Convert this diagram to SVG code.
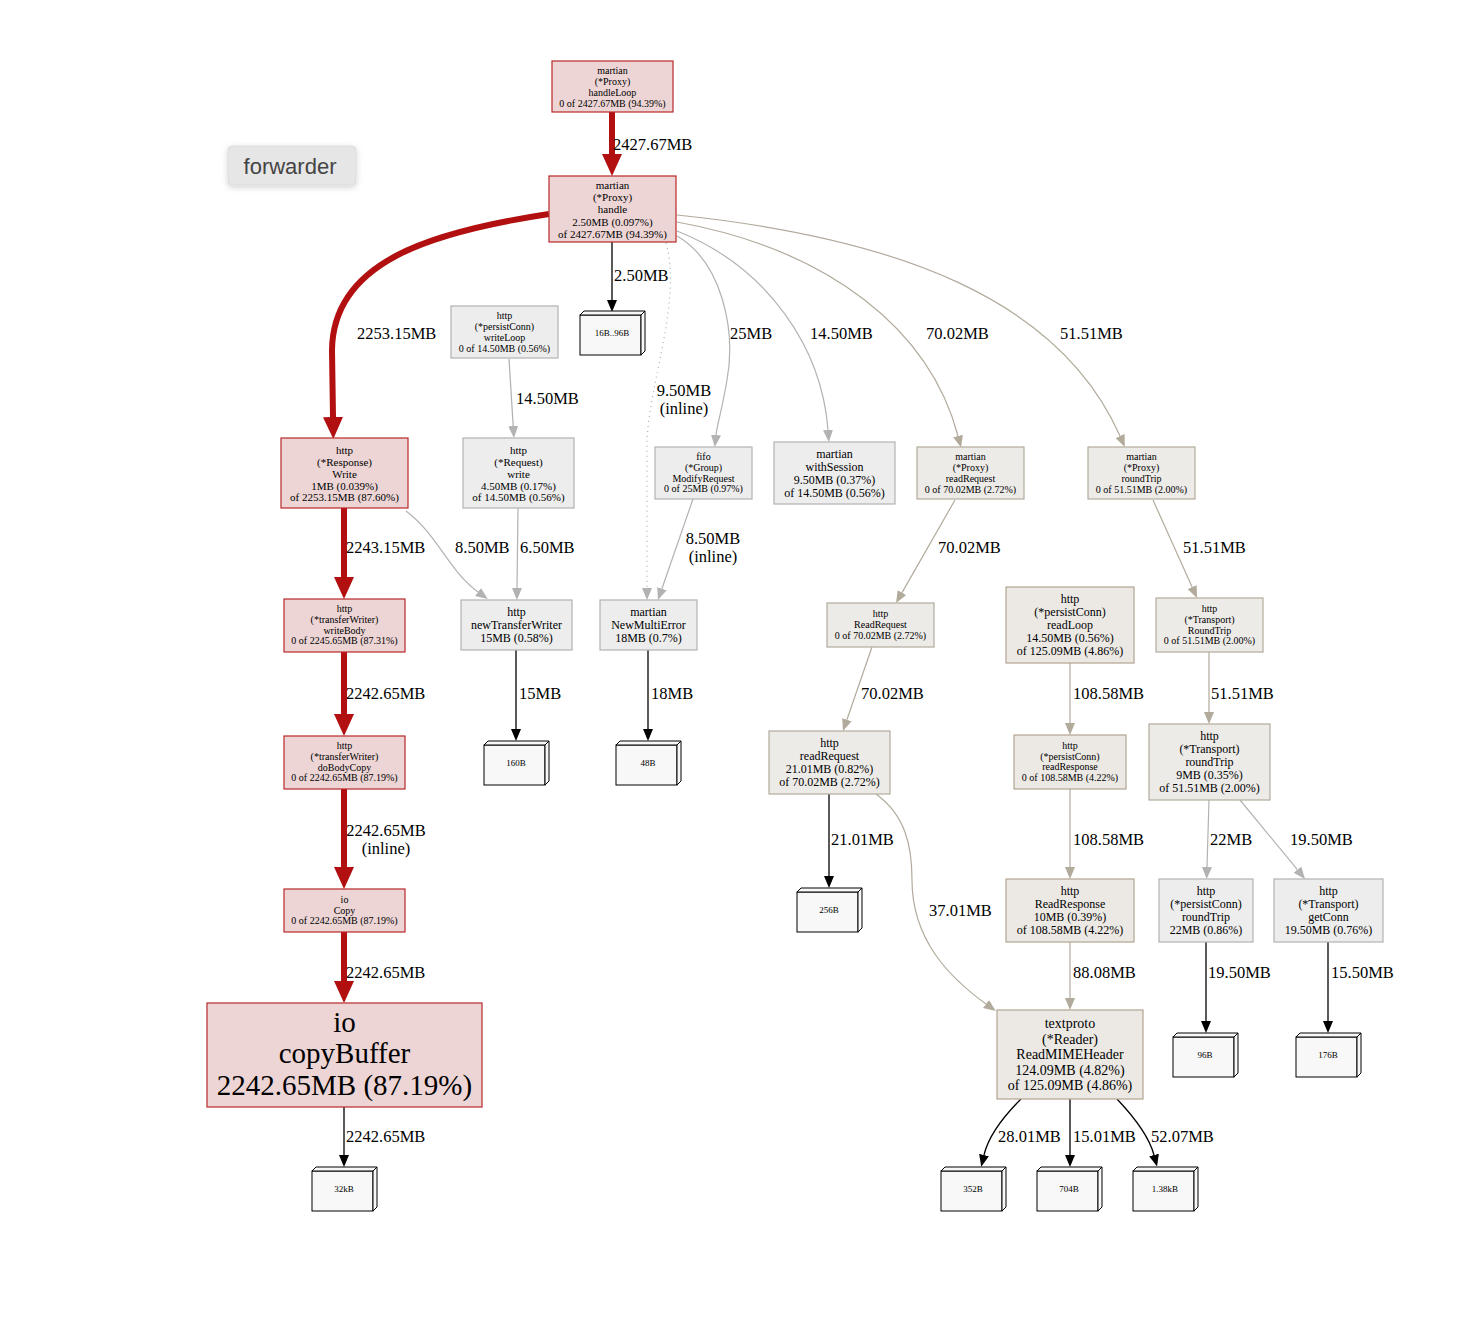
<svg xmlns="http://www.w3.org/2000/svg" xmlns:xlink="http://www.w3.org/1999/xlink" width="1470" height="1318" viewBox="0 0 1470 1318">
<style>
.nr{fill:#edd5d5;stroke:#b8282a;stroke-width:1.2}
.ng{fill:#ededed;stroke:#b2b2b2;stroke-width:1.2}
.nb{fill:#edebe8;stroke:#b2ab9d;stroke-width:1.2}
.nb2{fill:#ece9e5;stroke:#b2a48f;stroke-width:1.2}
.leaf{fill:#f8f8f8;stroke:#000;stroke-width:1}
.t{font-family:"Liberation Serif","Times New Roman",serif;text-anchor:middle;dominant-baseline:central;fill:#000}
.el{font-family:"Liberation Serif","Times New Roman",serif;font-size:16.5px;dominant-baseline:central;fill:#000}
.elm{font-family:"Liberation Serif","Times New Roman",serif;font-size:16.5px;dominant-baseline:central;text-anchor:middle;fill:#000}
.er{fill:none;stroke:#b21010;stroke-width:6}
.ek{fill:none;stroke:#000;stroke-width:1.3}
.eg{fill:none;stroke:#b2b2b2;stroke-width:1.2}
.eb{fill:none;stroke:#b2ab9c;stroke-width:1.2}
.ed{fill:none;stroke:#b2b2b2;stroke-width:1.3;stroke-dasharray:1 4}
</style>
<defs>
<marker id="aR" markerUnits="userSpaceOnUse" markerWidth="22" markerHeight="20" refX="0" refY="10" orient="auto"><path d="M0,0 L22,10 L0,20 z" fill="#b21010"/></marker>
<marker id="aK" markerUnits="userSpaceOnUse" markerWidth="12" markerHeight="10" refX="0" refY="5" orient="auto"><path d="M0,0 L12,5 L0,10 z" fill="#000"/></marker>
<marker id="aG" markerUnits="userSpaceOnUse" markerWidth="12" markerHeight="10" refX="0" refY="5" orient="auto"><path d="M0,0 L12,5 L0,10 z" fill="#b2b2b2"/></marker>
<marker id="aB" markerUnits="userSpaceOnUse" markerWidth="12" markerHeight="10" refX="0" refY="5" orient="auto"><path d="M0,0 L12,5 L0,10 z" fill="#b2ab9c"/></marker>
<g id="box3d" class="leaf">
<rect x="0" y="4" width="61" height="40"/>
<polygon points="0,4 4,0 65,0 61,4"/>
<polygon points="61,4 65,0 65,40 61,44"/>
</g>
<filter id="sh" x="-20%" y="-30%" width="140%" height="170%"><feDropShadow dx="0" dy="2" stdDeviation="3" flood-color="#000" flood-opacity="0.18"/></filter>
</defs>
<rect width="1470" height="1318" fill="#fff"/>

<g id="forwarder-label">
<rect x="228" y="146" width="128" height="39" rx="4" fill="#e6e6e6" stroke="#d4d4d4" stroke-width="0.6" filter="url(#sh)"/>
<text x="290" y="166" style="font-family:'Liberation Sans','DejaVu Sans',sans-serif;font-size:22px;fill:#444;text-anchor:middle;dominant-baseline:central">forwarder</text>
</g>

<g id="edges">
<path class="er" d="M612,112 L612,154" marker-end="url(#aR)"/>
<text class="el" x="613" y="144">2427.67MB</text>
<path class="er" d="M549,214 C430,232 333,262 332,350 L333,417" marker-end="url(#aR)"/>
<text class="el" x="357" y="333">2253.15MB</text>
<path class="ek" d="M612,242 L612,300" marker-end="url(#aK)"/>
<text class="el" x="614" y="275">2.50MB</text>
<path class="ed" d="M666,243 C682,300 650,380 647,440 L647,588" marker-end="url(#aG)"/>
<text class="elm" x="684" y="390">9.50MB</text>
<text class="elm" x="684" y="408">(inline)</text>
<path class="eg" d="M677,236 C722,262 736,330 727,380 C722,410 717,425 716,435" marker-end="url(#aG)"/>
<text class="el" x="730" y="333">25MB</text>
<path class="eg" d="M677,231 C770,268 822,350 828,430" marker-end="url(#aG)"/>
<text class="el" x="810" y="333">14.50MB</text>
<path class="eb" d="M677,222 C830,250 930,330 958,436" marker-end="url(#aB)"/>
<text class="el" x="926" y="333">70.02MB</text>
<path class="eb" d="M677,215 C900,238 1060,300 1120,436" marker-end="url(#aB)"/>
<text class="el" x="1060" y="333">51.51MB</text>
<path class="eg" d="M509,359 L513.2,426" marker-end="url(#aG)"/>
<text class="el" x="516" y="398">14.50MB</text>
<path class="er" d="M344,508 L344,577" marker-end="url(#aR)"/>
<text class="el" x="346" y="547">2243.15MB</text>
<path class="eg" d="M406,511 C438,535 448,570 478,592" marker-end="url(#aG)"/>
<text class="el" x="455" y="547">8.50MB</text>
<path class="eg" d="M518,508 L517,588" marker-end="url(#aG)"/>
<text class="el" x="520" y="547">6.50MB</text>
<path class="eg" d="M693,499 L661.9,588.7" marker-end="url(#aG)"/>
<text class="elm" x="713" y="538">8.50MB</text>
<text class="elm" x="713" y="556">(inline)</text>
<path class="eb" d="M955,500 L902,592.6" marker-end="url(#aB)"/>
<text class="el" x="938" y="547">70.02MB</text>
<path class="eb" d="M1153,500 L1192.1,587.1" marker-end="url(#aB)"/>
<text class="el" x="1183" y="547">51.51MB</text>
<path class="er" d="M344,652 L344,714" marker-end="url(#aR)"/>
<text class="el" x="346" y="693">2242.65MB</text>
<path class="ek" d="M516,650 L516,729" marker-end="url(#aK)"/>
<text class="el" x="519" y="693">15MB</text>
<path class="ek" d="M648,650 L648,729" marker-end="url(#aK)"/>
<text class="el" x="651" y="693">18MB</text>
<path class="eb" d="M872,647 L846.9,719.7" marker-end="url(#aB)"/>
<text class="el" x="861" y="693">70.02MB</text>
<path class="eb" d="M1070,663 L1070,723" marker-end="url(#aB)"/>
<text class="el" x="1073" y="693">108.58MB</text>
<path class="eb" d="M1209,652 L1209,712" marker-end="url(#aB)"/>
<text class="el" x="1211" y="693">51.51MB</text>
<path class="er" d="M344,789 L344,867" marker-end="url(#aR)"/>
<text class="elm" x="386" y="830">2242.65MB</text>
<text class="elm" x="386" y="848">(inline)</text>
<path class="ek" d="M829,794 L829,876" marker-end="url(#aK)"/>
<text class="el" x="831" y="839">21.01MB</text>
<path class="eb" d="M876,794 C905,815 912,845 912,880 C912,940 950,978 986,1004" marker-end="url(#aB)"/>
<text class="el" x="929" y="910">37.01MB</text>
<path class="eb" d="M1070,789 L1070,867" marker-end="url(#aB)"/>
<text class="el" x="1073" y="839">108.58MB</text>
<path class="eg" d="M1209,800 L1207,867" marker-end="url(#aG)"/>
<text class="el" x="1210" y="839">22MB</text>
<path class="eg" d="M1240,800 L1297.4,869.7" marker-end="url(#aG)"/>
<text class="el" x="1290" y="839">19.50MB</text>
<path class="er" d="M344,932 L344,981" marker-end="url(#aR)"/>
<text class="el" x="346" y="972">2242.65MB</text>
<path class="eb" d="M1070,942 L1070,998" marker-end="url(#aB)"/>
<text class="el" x="1073" y="972">88.08MB</text>
<path class="ek" d="M1206,942 L1206,1021" marker-end="url(#aK)"/>
<text class="el" x="1208" y="972">19.50MB</text>
<path class="ek" d="M1328,942 L1328,1021" marker-end="url(#aK)"/>
<text class="el" x="1331" y="972">15.50MB</text>
<path class="ek" d="M344,1107 L344,1155" marker-end="url(#aK)"/>
<text class="el" x="346" y="1136">2242.65MB</text>
<path class="ek" d="M1021,1099 C1000,1120 988,1138 984,1155" marker-end="url(#aK)"/>
<text class="el" x="998" y="1136">28.01MB</text>
<path class="ek" d="M1070,1099 L1070,1155" marker-end="url(#aK)"/>
<text class="el" x="1073" y="1136">15.01MB</text>
<path class="ek" d="M1117,1099 C1135,1118 1149,1136 1154,1155" marker-end="url(#aK)"/>
<text class="el" x="1151" y="1136">52.07MB</text>
</g>

<g id="n-handleLoop">
<rect class="nr" x="552" y="61" width="121" height="51"/>
<text class="t" font-size="10" x="612.5" y="70.5">martian</text>
<text class="t" font-size="10" x="612.5" y="81.5">(*Proxy)</text>
<text class="t" font-size="10" x="612.5" y="92.5">handleLoop</text>
<text class="t" font-size="10" x="612.5" y="103.5">0 of 2427.67MB (94.39%)</text>
</g>
<g id="n-handle">
<rect class="nr" x="549" y="176" width="127" height="66"/>
<text class="t" font-size="11" x="612.5" y="184.5">martian</text>
<text class="t" font-size="11" x="612.5" y="196.5">(*Proxy)</text>
<text class="t" font-size="11" x="612.5" y="208.5">handle</text>
<text class="t" font-size="11" x="612.5" y="221.5">2.50MB (0.097%)</text>
<text class="t" font-size="11" x="612.5" y="233.5">of 2427.67MB (94.39%)</text>
</g>
<g id="n-writeLoop">
<rect class="ng" x="451" y="306" width="107" height="52"/>
<text class="t" font-size="10" x="504.5" y="315.5">http</text>
<text class="t" font-size="10" x="504.5" y="326.5">(*persistConn)</text>
<text class="t" font-size="10" x="504.5" y="337.5">writeLoop</text>
<text class="t" font-size="10" x="504.5" y="348.5">0 of 14.50MB (0.56%)</text>
</g>
<g id="n-responseWrite">
<rect class="nr" x="281" y="438" width="127" height="70"/>
<text class="t" font-size="11" x="344.5" y="449.5">http</text>
<text class="t" font-size="11" x="344.5" y="461.5">(*Response)</text>
<text class="t" font-size="11" x="344.5" y="473.5">Write</text>
<text class="t" font-size="11" x="344.5" y="485.5">1MB (0.039%)</text>
<text class="t" font-size="11" x="344.5" y="496.5">of 2253.15MB (87.60%)</text>
</g>
<g id="n-requestWrite">
<rect class="ng" x="463" y="438" width="111" height="70"/>
<text class="t" font-size="11" x="518.5" y="449.5">http</text>
<text class="t" font-size="11" x="518.5" y="461.5">(*Request)</text>
<text class="t" font-size="11" x="518.5" y="473.5">write</text>
<text class="t" font-size="11" x="518.5" y="485.5">4.50MB (0.17%)</text>
<text class="t" font-size="11" x="518.5" y="496.5">of 14.50MB (0.56%)</text>
</g>
<g id="n-fifo">
<rect class="ng" x="655" y="447" width="97" height="52"/>
<text class="t" font-size="10" x="703.5" y="456.5">fifo</text>
<text class="t" font-size="10" x="703.5" y="467.5">(*Group)</text>
<text class="t" font-size="10" x="703.5" y="478.5">ModifyRequest</text>
<text class="t" font-size="10" x="703.5" y="488.5">0 of 25MB (0.97%)</text>
</g>
<g id="n-withSession">
<rect class="ng" x="774" y="442" width="121" height="62"/>
<text class="t" font-size="12" x="834.5" y="453.5">martian</text>
<text class="t" font-size="12" x="834.5" y="466.5">withSession</text>
<text class="t" font-size="12" x="834.5" y="479.5">9.50MB (0.37%)</text>
<text class="t" font-size="12" x="834.5" y="492.5">of 14.50MB (0.56%)</text>
</g>
<g id="n-proxyReadRequest">
<rect class="nb" x="917" y="447" width="107" height="52"/>
<text class="t" font-size="10" x="970.5" y="456.5">martian</text>
<text class="t" font-size="10" x="970.5" y="467.5">(*Proxy)</text>
<text class="t" font-size="10" x="970.5" y="478.5">readRequest</text>
<text class="t" font-size="10" x="970.5" y="489.5">0 of 70.02MB (2.72%)</text>
</g>
<g id="n-proxyRoundTrip">
<rect class="nb" x="1088" y="447" width="107" height="52"/>
<text class="t" font-size="10" x="1141.5" y="456.5">martian</text>
<text class="t" font-size="10" x="1141.5" y="467.5">(*Proxy)</text>
<text class="t" font-size="10" x="1141.5" y="478.5">roundTrip</text>
<text class="t" font-size="10" x="1141.5" y="489.5">0 of 51.51MB (2.00%)</text>
</g>
<g id="n-writeBody">
<rect class="nr" x="284" y="599" width="121" height="53"/>
<text class="t" font-size="10" x="344.5" y="608.5">http</text>
<text class="t" font-size="10" x="344.5" y="619.5">(*transferWriter)</text>
<text class="t" font-size="10" x="344.5" y="630.5">writeBody</text>
<text class="t" font-size="10" x="344.5" y="640.5">0 of 2245.65MB (87.31%)</text>
</g>
<g id="n-newTransferWriter">
<rect class="ng" x="461" y="600" width="111" height="50"/>
<text class="t" font-size="12" x="516.5" y="611.5">http</text>
<text class="t" font-size="12" x="516.5" y="624.5">newTransferWriter</text>
<text class="t" font-size="12" x="516.5" y="637.5">15MB (0.58%)</text>
</g>
<g id="n-newMultiError">
<rect class="ng" x="600" y="600" width="97" height="50"/>
<text class="t" font-size="12" x="648.5" y="611.5">martian</text>
<text class="t" font-size="12" x="648.5" y="624.5">NewMultiError</text>
<text class="t" font-size="12" x="648.5" y="637.5">18MB (0.7%)</text>
</g>
<g id="n-ReadRequest">
<rect class="nb" x="827" y="603" width="107" height="44"/>
<text class="t" font-size="10" x="880.5" y="613.5">http</text>
<text class="t" font-size="10" x="880.5" y="624.5">ReadRequest</text>
<text class="t" font-size="10" x="880.5" y="635.5">0 of 70.02MB (2.72%)</text>
</g>
<g id="n-readLoop">
<rect class="nb2" x="1006" y="587" width="128" height="76"/>
<text class="t" font-size="12" x="1070" y="598.5">http</text>
<text class="t" font-size="12" x="1070" y="611.5">(*persistConn)</text>
<text class="t" font-size="12" x="1070" y="624.5">readLoop</text>
<text class="t" font-size="12" x="1070" y="637.5">14.50MB (0.56%)</text>
<text class="t" font-size="12" x="1070" y="650.5">of 125.09MB (4.86%)</text>
</g>
<g id="n-transportRoundTripUpper">
<rect class="nb" x="1156" y="598" width="107" height="54"/>
<text class="t" font-size="10" x="1209.5" y="608.5">http</text>
<text class="t" font-size="10" x="1209.5" y="619.5">(*Transport)</text>
<text class="t" font-size="10" x="1209.5" y="630.5">RoundTrip</text>
<text class="t" font-size="10" x="1209.5" y="640.5">0 of 51.51MB (2.00%)</text>
</g>
<g id="n-doBodyCopy">
<rect class="nr" x="284" y="736" width="121" height="53"/>
<text class="t" font-size="10" x="344.5" y="745.5">http</text>
<text class="t" font-size="10" x="344.5" y="756.5">(*transferWriter)</text>
<text class="t" font-size="10" x="344.5" y="767.5">doBodyCopy</text>
<text class="t" font-size="10" x="344.5" y="777.5">0 of 2242.65MB (87.19%)</text>
</g>
<g id="n-httpReadRequest">
<rect class="nb" x="769" y="731" width="121" height="63"/>
<text class="t" font-size="12" x="829.5" y="742.5">http</text>
<text class="t" font-size="12" x="829.5" y="755.5">readRequest</text>
<text class="t" font-size="12" x="829.5" y="768.5">21.01MB (0.82%)</text>
<text class="t" font-size="12" x="829.5" y="781.5">of 70.02MB (2.72%)</text>
</g>
<g id="n-readResponse">
<rect class="nb2" x="1014" y="735" width="112" height="54"/>
<text class="t" font-size="10" x="1070" y="745.5">http</text>
<text class="t" font-size="10" x="1070" y="756.5">(*persistConn)</text>
<text class="t" font-size="10" x="1070" y="766.5">readResponse</text>
<text class="t" font-size="10" x="1070" y="777.5">0 of 108.58MB (4.22%)</text>
</g>
<g id="n-transportRoundTrip">
<rect class="nb" x="1149" y="724" width="121" height="76"/>
<text class="t" font-size="12" x="1209.5" y="735.5">http</text>
<text class="t" font-size="12" x="1209.5" y="748.5">(*Transport)</text>
<text class="t" font-size="12" x="1209.5" y="761.5">roundTrip</text>
<text class="t" font-size="12" x="1209.5" y="774.5">9MB (0.35%)</text>
<text class="t" font-size="12" x="1209.5" y="787.5">of 51.51MB (2.00%)</text>
</g>
<g id="n-ioCopy">
<rect class="nr" x="284" y="889" width="121" height="43"/>
<text class="t" font-size="10" x="344.5" y="899.5">io</text>
<text class="t" font-size="10" x="344.5" y="910.5">Copy</text>
<text class="t" font-size="10" x="344.5" y="920.5">0 of 2242.65MB (87.19%)</text>
</g>
<g id="n-ReadResponse">
<rect class="nb2" x="1006" y="879" width="128" height="63"/>
<text class="t" font-size="12" x="1070" y="890.5">http</text>
<text class="t" font-size="12" x="1070" y="903.5">ReadResponse</text>
<text class="t" font-size="12" x="1070" y="916.5">10MB (0.39%)</text>
<text class="t" font-size="12" x="1070" y="929.5">of 108.58MB (4.22%)</text>
</g>
<g id="n-pcRoundTrip">
<rect class="ng" x="1159" y="879" width="94" height="63"/>
<text class="t" font-size="12" x="1206" y="890.5">http</text>
<text class="t" font-size="12" x="1206" y="903.5">(*persistConn)</text>
<text class="t" font-size="12" x="1206" y="916.5">roundTrip</text>
<text class="t" font-size="12" x="1206" y="929.5">22MB (0.86%)</text>
</g>
<g id="n-getConn">
<rect class="ng" x="1274" y="879" width="109" height="63"/>
<text class="t" font-size="12" x="1328.5" y="890.5">http</text>
<text class="t" font-size="12" x="1328.5" y="903.5">(*Transport)</text>
<text class="t" font-size="12" x="1328.5" y="916.5">getConn</text>
<text class="t" font-size="12" x="1328.5" y="929.5">19.50MB (0.76%)</text>
</g>
<g id="n-copyBuffer">
<rect class="nr" x="207" y="1003" width="275" height="104"/>
<text class="t" font-size="29" x="344.5" y="1022">io</text>
<text class="t" font-size="29" x="344.5" y="1053">copyBuffer</text>
<text class="t" font-size="29" x="344.5" y="1085">2242.65MB (87.19%)</text>
</g>
<g id="n-readMIMEHeader">
<rect class="nb2" x="997" y="1010" width="146" height="89"/>
<text class="t" font-size="14" x="1070" y="1023.5">textproto</text>
<text class="t" font-size="14" x="1070" y="1039.5">(*Reader)</text>
<text class="t" font-size="14" x="1070" y="1054.5">ReadMIMEHeader</text>
<text class="t" font-size="14" x="1070" y="1070.5">124.09MB (4.82%)</text>
<text class="t" font-size="14" x="1070" y="1085.5">of 125.09MB (4.86%)</text>
</g>

<g id="leaf-16B-96B"><use xlink:href="#box3d" href="#box3d" x="580" y="311"/><text class="t" font-size="9" x="612" y="333">16B..96B</text></g>
<g id="leaf-160B"><use xlink:href="#box3d" href="#box3d" x="484" y="741"/><text class="t" font-size="9" x="516" y="763">160B</text></g>
<g id="leaf-48B"><use xlink:href="#box3d" href="#box3d" x="616" y="741"/><text class="t" font-size="9" x="648" y="763">48B</text></g>
<g id="leaf-256B"><use xlink:href="#box3d" href="#box3d" x="797" y="888"/><text class="t" font-size="9" x="829" y="910">256B</text></g>
<g id="leaf-96B"><use xlink:href="#box3d" href="#box3d" x="1173" y="1033"/><text class="t" font-size="9" x="1205" y="1055">96B</text></g>
<g id="leaf-176B"><use xlink:href="#box3d" href="#box3d" x="1296" y="1033"/><text class="t" font-size="9" x="1328" y="1055">176B</text></g>
<g id="leaf-32kB"><use xlink:href="#box3d" href="#box3d" x="312" y="1167"/><text class="t" font-size="9" x="344" y="1189">32kB</text></g>
<g id="leaf-352B"><use xlink:href="#box3d" href="#box3d" x="941" y="1167"/><text class="t" font-size="9" x="973" y="1189">352B</text></g>
<g id="leaf-704B"><use xlink:href="#box3d" href="#box3d" x="1037" y="1167"/><text class="t" font-size="9" x="1069" y="1189">704B</text></g>
<g id="leaf-1.38kB"><use xlink:href="#box3d" href="#box3d" x="1133" y="1167"/><text class="t" font-size="9" x="1165" y="1189">1.38kB</text></g>
</svg>
